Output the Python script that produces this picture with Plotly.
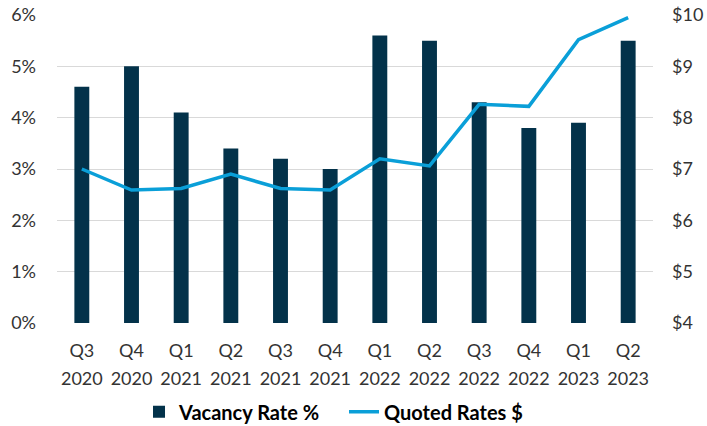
import plotly.graph_objects as go

categories = ["Q3 2020", "Q4 2020", "Q1 2021", "Q2 2021", "Q3 2021", "Q4 2021",
              "Q1 2022", "Q2 2022", "Q3 2022", "Q4 2022", "Q1 2023", "Q2 2023"]
quarters = ["Q3", "Q4", "Q1", "Q2", "Q3", "Q4", "Q1", "Q2", "Q3", "Q4", "Q1", "Q2"]
years = ["2020", "2020", "2021", "2021", "2021", "2021", "2022", "2022", "2022", "2022", "2023", "2023"]
vacancy_rate = [4.6, 5.0, 4.1, 3.4, 3.2, 3.0, 5.6, 5.5, 4.3, 3.8, 3.9, 5.5]
quoted_rates = [7.00, 6.59, 6.62, 6.90, 6.62, 6.59, 7.20, 7.06, 8.26, 8.22, 9.52, 9.95]
left_ticks = [0, 1, 2, 3, 4, 5, 6]
left_labels = ["0%", "1%", "2%", "3%", "4%", "5%", "6%"]
right_ticks = [4, 5, 6, 7, 8, 9, 10]
right_labels = ["$4", "$5", "$6", "$7", "$8", "$9", "$10"]

FONT = "Lato"
TXT = "#333333"

fig = go.Figure()
fig.add_trace(go.Bar(x=categories, y=vacancy_rate, name="Vacancy Rate %",
                     marker=dict(color="#03324a", line=dict(width=0)),
                     xaxis="x", yaxis="y"))
fig.add_trace(go.Scatter(x=categories, y=quoted_rates, name="Quoted Rates $",
                         mode="lines", line=dict(color="#0a9fd8", width=3.5),
                         xaxis="x2", yaxis="y2"))

fig.update_layout(
    width=707, height=426,
    margin=dict(l=57, r=54, t=15, b=103, autoexpand=False),
    plot_bgcolor="white", paper_bgcolor="white",
    font=dict(family=FONT, size=18, color=TXT),
    bargap=0.7,
    showlegend=True,
    legend=dict(orientation="h", x=0.1376, xanchor="left", y=-0.288, yanchor="middle",
                font=dict(family=FONT, size=20, color="#000000", weight="bold"),
                itemwidth=30, tracegroupgap=0, entrywidth=160, entrywidthmode="pixels"),
    xaxis=dict(type="category", range=[-0.5, 11.5], tickvals=categories, ticktext=quarters,
               showgrid=False, ticks="", showline=False, zeroline=False,
               ticklabelstandoff=15, automargin=False),
    xaxis2=dict(type="category", range=[-0.5, 11.5], tickvals=categories, ticktext=years,
                overlaying="x", side="bottom", anchor="y",
                showgrid=False, ticks="", showline=False, zeroline=False,
                ticklabelstandoff=43, automargin=False),
    yaxis=dict(range=[0, 6], tickvals=left_ticks, ticktext=left_labels,
               showgrid=True, gridcolor="#d9d9d9", gridwidth=1, zeroline=False,
               ticks="", ticklabelstandoff=20, automargin=False),
    yaxis2=dict(range=[4, 10], tickvals=right_ticks, ticktext=right_labels,
                overlaying="y", side="right", showgrid=False, zeroline=False,
                ticks="", ticklabelstandoff=18, automargin=False),
)

fig.write_html("out.html", config={"displayModeBar": False},
               post_script="document.body.style.margin='0';document.body.style.overflow='hidden';")
